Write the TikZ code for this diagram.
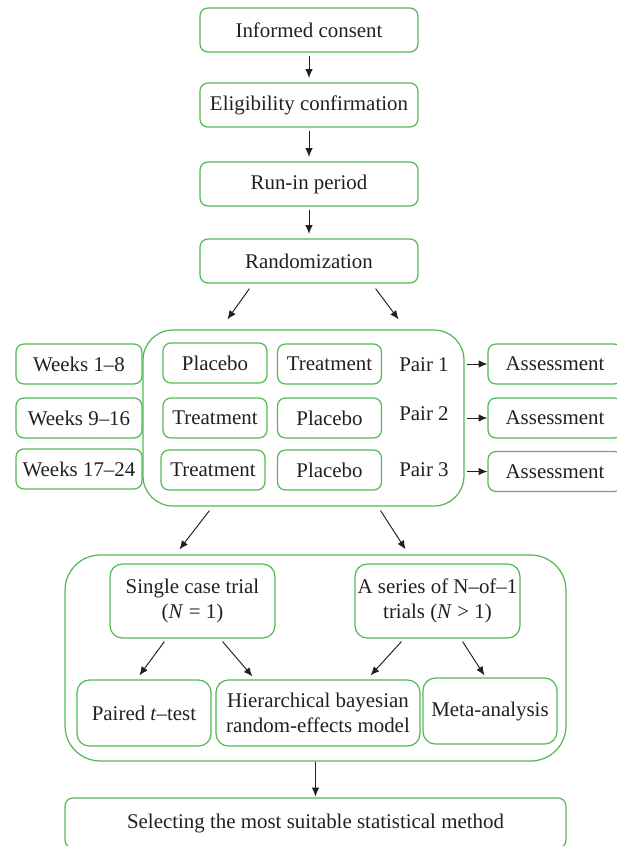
\documentclass[tikz,border=0pt]{standalone}
\usepackage{fontspec}
\setmainfont{Liberation Serif}
\definecolor{boxgreen}{RGB}{82,186,82}
\definecolor{textgray}{RGB}{35,31,32}
\usetikzlibrary{arrows.meta}

\begin{document}
\begin{tikzpicture}[x=0.02cm,y=-0.02cm,
		flowbox/.style={draw=boxgreen, line width=0.7pt, rounded corners=4.5pt, text=textgray,
			inner sep=0pt, align=center, font=\fontsize{11.9}{14}\selectfont},
		bigbox/.style={draw=boxgreen, line width=0.7pt, rounded corners=17pt, inner sep=0pt},
		plain/.style={inner sep=0pt, text=textgray, font=\fontsize{11.9}{14}\selectfont},
		arrow/.style={-{Latex[length=5pt,width=4.2pt]}, textgray, line width=0.55pt}
	]
		\useasboundingbox (0,0) rectangle (617,846);
		\clip (0,0) rectangle (617,846);
		\node[flowbox, minimum width=4.36cm, minimum height=0.88cm] (consent) at (309,30) {Informed consent};
		\node[flowbox, minimum width=4.36cm, minimum height=0.88cm] (elig) at (309,105) {Eligibility confirmation};
		\node[flowbox, minimum width=4.36cm, minimum height=0.88cm] (runin) at (309,184) {Run-in period};
		\node[flowbox, minimum width=4.36cm, minimum height=0.88cm] (rand) at (309,261) {Randomization};
		\node[bigbox, minimum width=6.42cm, minimum height=3.52cm] (pairs) at (303.5,418) {};
		\node[flowbox, minimum width=2.52cm, minimum height=0.8cm] (wk1) at (79,364) {Weeks 1--8};
		\node[flowbox, minimum width=2.52cm, minimum height=0.8cm] (wk2) at (79,418) {Weeks 9--16};
		\node[flowbox, minimum width=2.52cm, minimum height=0.8cm] (wk3) at (79,469) {Weeks 17--24};
		\node[flowbox, minimum width=2.08cm, minimum height=0.8cm] (pa) at (215,363) {Placebo};
		\node[flowbox, minimum width=2.08cm, minimum height=0.8cm] (pb) at (329.5,364) {Treatment};
		\node[flowbox, minimum width=2.08cm, minimum height=0.8cm] (pc) at (215,418) {Treatment};
		\node[flowbox, minimum width=2.08cm, minimum height=0.8cm] (pd) at (329.5,418) {Placebo};
		\node[flowbox, minimum width=2.08cm, minimum height=0.8cm] (pe) at (213,470) {Treatment};
		\node[flowbox, minimum width=2.08cm, minimum height=0.8cm] (pf) at (329.5,470) {Placebo};
		\node[plain] (pair1) at (424,365) {Pair 1};
		\node[plain] (pair2) at (424,414) {Pair 2};
		\node[plain] (pair3) at (424,470) {Pair 3};
		\node[flowbox, minimum width=2.68cm, minimum height=0.8cm] (as1) at (555,364) {Assessment};
		\node[flowbox, minimum width=2.68cm, minimum height=0.8cm] (as2) at (555,418) {Assessment};
		\node[flowbox, minimum width=2.68cm, minimum height=0.8cm] (as3) at (555,471.5) {Assessment};
		\node[bigbox, rounded corners=20pt, minimum width=10.02cm, minimum height=4.12cm] (methods) at (315.5,658) {};
		\node[flowbox, rounded corners=7pt, minimum width=3.3cm, minimum height=1.48cm] (single) at (192.5,601) {Single case trial\\(\textit{N} = 1)};
		\node[flowbox, rounded corners=7pt, minimum width=3.3cm, minimum height=1.48cm] (series) at (437.5,601) {A series of N--of--1\\trials (\textit{N} > 1)};
		\node[flowbox, rounded corners=7pt, minimum width=2.68cm, minimum height=1.32cm] (ttest) at (144,713) {Paired \textit{t}--test};
		\node[flowbox, rounded corners=7pt, minimum width=4.08cm, minimum height=1.32cm] (hier) at (318,713) {Hierarchical bayesian\\random-effects model};
		\node[flowbox, rounded corners=7pt, minimum width=2.68cm, minimum height=1.32cm] (meta) at (490,711) {Meta-analysis};
		\node[flowbox, minimum width=10.02cm, minimum height=1.0cm] (select) at (315.5,823) {Selecting the most suitable statistical method};
		\draw[arrow, shorten <=1.7pt, shorten >=2.5pt] (consent) -- (elig);
		\draw[arrow, shorten <=1.7pt, shorten >=2.5pt] (elig) -- (runin);
		\draw[arrow, shorten <=1.7pt, shorten >=2.5pt] (runin) -- (rand);
		\draw[arrow] ([shift={(50,5)}]rand.south west) -- ([shift={(85,-10)}]pairs.north west);
		\draw[arrow] ([shift={(-43,5)}]rand.south east) -- ([shift={(-66,-10)}]pairs.north east);
		\draw[arrow, shorten <=1.5pt] (as1 -| pairs.east) -- (as1.west);
		\draw[arrow, shorten <=1.5pt] (as2 -| pairs.east) -- (as2.west);
		\draw[arrow, shorten <=1.5pt] (as3 -| pairs.east) -- (as3.west);
		\draw[arrow] ([shift={(67,4)}]pairs.south west) -- ([shift={(115,-5)}]methods.north west);
		\draw[arrow] ([shift={(-84,4)}]pairs.south east) -- ([shift={(-161,-5)}]methods.north east);
		\draw[arrow] ([shift={(55,3)}]single.south west) -- ([shift={(63,-4)}]ttest.north west);
		\draw[arrow] ([shift={(-53,3)}]single.south east) -- ([shift={(37,-3)}]hier.north west);
		\draw[arrow] ([shift={(47,3)}]series.south west) -- ([shift={(-50,-4)}]hier.north east);
		\draw[arrow] ([shift={(-58,3)}]series.south east) -- ([shift={(62,-2)}]meta.north west);
		\draw[arrow, shorten >=0.5pt] (methods.south) -- (select.north);
	\end{tikzpicture}
\end{document}
